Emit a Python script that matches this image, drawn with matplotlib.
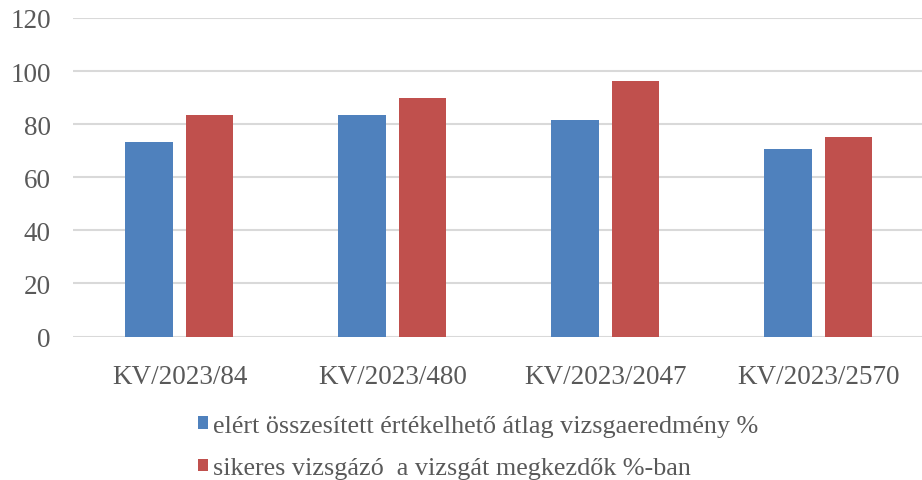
import matplotlib.pyplot as plt
import numpy as np
from matplotlib.patches import Patch
from matplotlib.font_manager import FontProperties

# data
categories = ['KV/2023/84', 'KV/2023/480', 'KV/2023/2047', 'KV/2023/2570']
atlag = [73.4, 83.6, 81.7, 70.8]
sikeres = [83.6, 90.0, 96.4, 75.3]
series_names = ['elért összesített értékelhető átlag vizsgaeredmény %',
                'sikeres vizsgázó  a vizsgát megkezdők %-ban']
yticks = [0, 20, 40, 60, 80, 100, 120]

blue = '#4F81BD'
red = '#C0504D'
grid_col = '#D9D9D9'
text_col = '#595959'
fs = 19.5

plt.rcParams['font.family'] = ['Liberation Serif', 'DejaVu Serif']

fig = plt.figure(figsize=(9.22, 4.81), dpi=100)
W, H = 922, 481
ax = fig.add_axes([73 / W, (H - 337.5) / H, 852 / W, 318.5 / H])

x = np.arange(len(categories))
bw = 0.225
ax.bar(x - 0.143, atlag, bw, color=blue, zorder=3)
ax.bar(x + 0.141, sikeres, bw, color=red, zorder=3)

ax.set_xlim(-0.5, 3.5)
ax.set_ylim(0, 120)
ax.set_yticks(yticks)
ax.set_xticks(x)
ax.set_xticklabels(categories)
ax.yaxis.grid(True, color=grid_col, linewidth=1.5, zorder=0)
ax.set_axisbelow(True)
for s in ax.spines.values():
    s.set_visible(False)
ax.tick_params(axis='both', length=0, labelsize=fs, colors=text_col)
ax.tick_params(axis='y', pad=16)
ax.tick_params(axis='x', pad=20)
for lbl in ax.get_yticklabels():
    lbl.set_verticalalignment('center_baseline')

handles = [Patch(facecolor=blue), Patch(facecolor=red)]
leg_font = FontProperties(family='Liberation Serif', size=18.8)
leg = fig.legend(handles, series_names, loc='upper left',
                 bbox_to_anchor=(198 / W, 1 - 416 / H), frameon=False,
                 prop=leg_font,
                 handlelength=0.38, handleheight=0.38,
                 handletextpad=0.18, labelspacing=0.78, borderpad=0,
                 borderaxespad=0)
for t in leg.get_texts():
    t.set_color(text_col)
    t.set_fontproperties(leg_font)

fig.savefig('out.png', dpi=100)
